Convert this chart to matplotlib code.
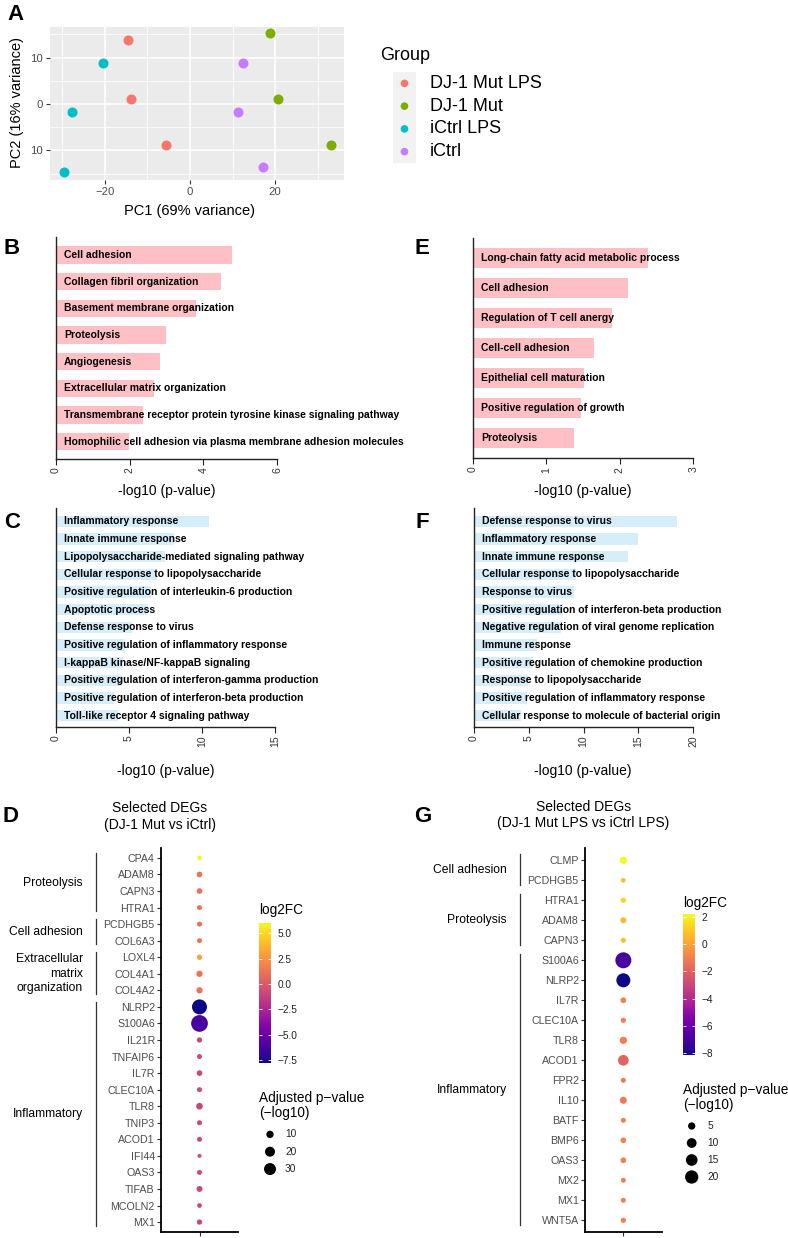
import numpy as np
import matplotlib
matplotlib.use("Agg")
import matplotlib.pyplot as plt
import matplotlib.transforms as mtransforms
from matplotlib import colors, cm

W, H = 788, 1238
plt.rcParams["font.family"] = ["Liberation Sans", "DejaVu Sans"]

# ---- A: PCA ----
groups = ["DJ-1 Mut LPS", "DJ-1 Mut", "iCtrl LPS", "iCtrl"]
group_colors = ["#F8766D", "#7CAE00", "#00BFC4", "#C77CFF"]
pc1 = [[-14.6, -13.9, -5.6], [18.7, 20.6, 33.2], [-20.4, -27.7, -29.6], [12.5, 11.2, 17.2]]
pc2 = [[13.9, 1.1, -8.9], [15.2, 1.1, -8.9], [8.9, -1.8, -14.6], [8.8, -1.7, -13.5]]

# ---- B / E: GO terms (pink) ----
b_terms = ["Cell adhesion", "Collagen fibril organization", "Basement membrane organization",
           "Proteolysis", "Angiogenesis", "Extracellular matrix organization",
           "Transmembrane receptor protein tyrosine kinase signaling pathway",
           "Homophilic cell adhesion via plasma membrane adhesion molecules"]
b_vals = [4.76, 4.47, 3.80, 2.98, 2.82, 2.67, 2.37, 1.98]

e_terms = ["Long-chain fatty acid metabolic process", "Cell adhesion", "Regulation of T cell anergy",
           "Cell-cell adhesion", "Epithelial cell maturation", "Positive regulation of growth",
           "Proteolysis"]
e_vals = [2.38, 2.11, 1.90, 1.65, 1.51, 1.47, 1.38]

# ---- C / F: GO terms (blue) ----
c_terms = ["Inflammatory response", "Innate immune response",
           "Lipopolysaccharide-mediated signaling pathway", "Cellular response to lipopolysaccharide",
           "Positive regulation of interleukin-6 production", "Apoptotic process",
           "Defense response to virus", "Positive regulation of inflammatory response",
           "I-kappaB kinase/NF-kappaB signaling", "Positive regulation of interferon-gamma production",
           "Positive regulation of interferon-beta production", "Toll-like receptor 4 signaling pathway"]
c_vals = [10.5, 8.1, 7.5, 6.9, 6.5, 6.3, 5.2, 4.7, 4.6, 4.55, 4.0, 4.25]

f_terms = ["Defense response to virus", "Inflammatory response", "Innate immune response",
           "Cellular response to lipopolysaccharide", "Response to virus",
           "Positive regulation of interferon-beta production",
           "Negative regulation of viral genome replication", "Immune response",
           "Positive regulation of chemokine production", "Response to lipopolysaccharide",
           "Positive regulation of inflammatory response",
           "Cellular response to molecule of bacterial origin"]
f_vals = [18.5, 15.0, 14.0, 9.3, 9.15, 8.1, 7.9, 5.7, 5.4, 4.95, 4.85, 4.3]

# ---- D: DEGs DJ-1 Mut vs iCtrl ----
d_genes = ["CPA4", "ADAM8", "CAPN3", "HTRA1", "PCDHGB5", "COL6A3", "LOXL4", "COL4A1", "COL4A2",
           "NLRP2", "S100A6", "IL21R", "TNFAIP6", "IL7R", "CLEC10A", "TLR8", "TNIP3", "ACOD1",
           "IFI44", "OAS3", "TIFAB", "MCOLN2", "MX1"]
d_log2fc = [6.05, 1.2, 1.2, 1.1, 1.1, 1.3, 3.1, 1.2, 1.2, -7.83, -6.2, -0.9, -0.7, -0.9, -0.8,
            -1.0, -0.8, -0.8, -0.7, -0.8, -0.9, -0.8, -0.9]
d_padj = [3.4, 5.5, 5.5, 4.0, 4.0, 4.0, 4.6, 7.0, 7.0, 49, 62, 4.6, 4.0, 5.5, 4.0, 8.0, 4.0,
          4.0, 2.3, 4.0, 6.2, 3.4, 4.6]
d_groups = ["Proteolysis", "Cell adhesion", "Extracellular\nmatrix\norganization", "Inflammatory"]
d_group_sizes = [4, 2, 3, 14]
d_size_breaks = [10, 20, 30]
d_fc_ticks = [5.0, 2.5, 0.0, -2.5, -5.0, -7.5]

# ---- G: DEGs DJ-1 Mut LPS vs iCtrl LPS ----
g_genes = ["CLMP", "PCDHGB5", "HTRA1", "ADAM8", "CAPN3", "S100A6", "NLRP2", "IL7R", "CLEC10A",
           "TLR8", "ACOD1", "FPR2", "IL10", "BATF", "BMP6", "OAS3", "MX2", "MX1", "WNT5A"]
g_log2fc = [2.2, 0.65, 1.2, 0.6, 0.7, -6.9, -8.12, -1.1, -1.0, -1.0, -1.9, -1.2, -1.2, -1.0,
            -0.9, -1.0, -1.1, -1.1, -1.0]
g_padj = [5.0, 1.6, 2.2, 3.1, 1.9, 30.1, 22.5, 2.7, 2.2, 5.0, 12.3, 1.9, 4.5, 1.9, 2.7, 2.7,
          1.9, 1.9, 2.2]
g_groups = ["Cell adhesion", "Proteolysis", "Inflammatory"]
g_group_sizes = [2, 3, 14]
g_size_breaks = [5, 10, 15, 20]
g_fc_ticks = [2, 0, -2, -4, -6, -8]

fig = plt.figure(figsize=(W / 100, H / 100), dpi=100)


def px_axes(left, top, right, bottom):
    return fig.add_axes([left / W, 1 - bottom / H, (right - left) / W, (bottom - top) / H])


def px_text(x, y, s, **kw):
    fig.text(x / W, 1 - y / H, s, **kw)


def shift(dx):
    return mtransforms.ScaledTranslation(dx / 100, 0, fig.dpi_scale_trans)


def minus(v, fmt):
    return (fmt % v).replace("-", "\u2212")


# panel letters
for letter, x, y in [("A", 16, 14), ("B", 12, 248), ("E", 422, 248), ("C", 12, 523),
                     ("F", 422, 523), ("D", 11, 816), ("G", 423, 817)]:
    px_text(x, y, letter, fontsize=16, fontweight="bold", ha="center", va="center")

# ---------- A ----------
ax = px_axes(50, 27, 344, 180)
ax.set_facecolor("#EBEBEB")
for xs, ys, col in zip(pc1, pc2, group_colors):
    ax.scatter(xs, ys, s=52, color=col, linewidths=0, zorder=3)
ax.set_xlim(-32.9, 36.2)
ax.set_ylim(-16.4, 16.6)
ax.set_xticks([-20, 0, 20])
ax.set_xticklabels(["\u221220", "0", "20"])
ax.set_yticks([-10, 0, 10])
ax.set_yticklabels(["10", "0", "10"])
ax.set_xticks([-30, -10, 10, 30], minor=True)
ax.set_yticks([-15, -5, 5, 15], minor=True)
ax.grid(which="major", color="white", lw=1.1)
ax.grid(which="minor", color="white", lw=0.55)
ax.set_axisbelow(True)
ax.tick_params(which="minor", length=0)
ax.tick_params(which="major", length=3, width=0.8, color="#333333", labelcolor="#4D4D4D",
               labelsize=8.2, pad=2)
for s in ax.spines.values():
    s.set_visible(False)
px_text(190, 211, "PC1 (69% variance)", fontsize=10.5, ha="center", va="center")
px_text(17, 103, "PC2 (16% variance)", fontsize=10.5, ha="center", va="center", rotation=90)

# legend
px_text(380, 55, "Group", fontsize=13, ha="left", va="center")
lax = px_axes(393, 72, 416, 163)
lax.set_facecolor("#F2F2F2")
lax.set_xlim(0, 1)
lax.set_ylim(len(groups) - 0.5, -0.5)
lax.scatter(np.full(len(groups), 0.5), np.arange(len(groups)), s=30, c=group_colors, linewidths=0)
lax.set_xticks([])
lax.set_yticks([])
for s in lax.spines.values():
    s.set_visible(False)
ltr = mtransforms.blended_transform_factory(lax.transAxes, lax.transData)
for i, g in enumerate(groups):
    lax.text(1.6, i, g, transform=ltr, fontsize=13, ha="left", va="center")


# ---------- GO bar panels ----------
def go_panel(box, terms, vals, xmax, step, color, bar_h, pad_top, pad_bot):
    ax = px_axes(*box)
    y = np.arange(len(terms))
    ax.barh(y, vals, height=bar_h, color=color, linewidth=0)
    ax.set_xlim(0, xmax)
    ax.set_ylim(len(terms) - 1 + pad_bot, -pad_top)
    ax.set_xticks(np.arange(0, xmax + step / 2, step))
    ax.set_yticks([])
    ax.spines[["top", "right"]].set_visible(False)
    for side in ["left", "bottom"]:
        ax.spines[side].set_color("#222222")
        ax.spines[side].set_linewidth(1.0)
    ax.tick_params(axis="x", length=4, width=0.8, color="#222222", labelcolor="#333333",
                   labelsize=7.5, labelrotation=90, pad=2)
    for i, t in enumerate(terms):
        ax.text(0, i, t, transform=ax.transData + shift(8.5), ha="left", va="center",
                fontsize=7.45, fontweight="bold", clip_on=False)
    return ax


pink = "#FFC0C5"
blue = "#D6EEFA"
go_panel((55.7, 237, 277.3, 459), b_terms, b_vals, 6, 2, pink, 0.66, 0.675, 0.65)
go_panel((472.7, 238, 693.3, 458.3), e_terms, e_vals, 3, 1, pink, 0.67, 0.68, 0.67)
go_panel((56, 508, 275, 727), c_terms, c_vals, 15, 5, blue, 0.64, 0.76, 0.64)
go_panel((474, 508, 693.3, 727), f_terms, f_vals, 20, 5, blue, 0.64, 0.76, 0.64)
for x, y in [(167, 491), (583, 491), (166, 771), (583, 771)]:
    px_text(x, y, "-log10 (p-value)", fontsize=10, ha="center", va="center")


# ---------- dot plots ----------
def dot_panel(box, genes, fc, padj, grp_names, grp_sizes, size_a, size_b):
    ax = px_axes(*box)
    n = len(genes)
    y = np.arange(n)
    norm = colors.Normalize(min(fc), max(fc))
    diam = size_a + size_b * np.sqrt(padj)
    ax.scatter(np.ones(n), y, s=(0.72 * diam) ** 2, c=fc, cmap="plasma", norm=norm,
               linewidths=0, clip_on=False, zorder=3)
    ax.set_xlim(0.4, 1.6)
    ax.set_ylim(n - 1 + 0.6, -0.6)
    ax.set_yticks(y)
    ax.set_yticklabels(genes)
    ax.set_xticks([1])
    ax.set_xticklabels([""])
    ax.spines[["top", "right"]].set_visible(False)
    for side in ["left", "bottom"]:
        ax.spines[side].set_linewidth(1.3)
        ax.spines[side].set_color("black")
    ax.tick_params(length=3, width=0.8, color="#333333", labelcolor="#4D4D4D", labelsize=7.7, pad=1.5)
    tl = mtransforms.blended_transform_factory(ax.transAxes + shift(-65), ax.transData)
    tt = mtransforms.blended_transform_factory(ax.transAxes + shift(-78), ax.transData)
    start = 0
    for name, size in zip(grp_names, grp_sizes):
        end = start + size - 1
        ax.plot([0, 0], [start - 0.3, end + 0.22], transform=tl, color="#333333", lw=0.9,
                clip_on=False)
        ax.text(0, (start + end) / 2, name, transform=tt, ha="right", va="center",
                multialignment="right", fontsize=8.7, linespacing=1.3)
        start = end + 1
    return norm


def fc_bar(box, norm, ticks, fmt):
    cax = px_axes(*box)
    cb = fig.colorbar(cm.ScalarMappable(norm=norm, cmap="plasma"), cax=cax)
    cb.outline.set_visible(False)
    cb.set_ticks(ticks, labels=[minus(t, fmt) for t in ticks])
    cax.minorticks_off()
    cax.tick_params(direction="in", length=2.5, width=0.6, color="white", left=True, right=True,
                    labelsize=7.3, labelcolor="#222222", pad=4.5)


def size_legend(box, breaks, size_a, size_b, label_x):
    lax = px_axes(*box)
    lax.axis("off")
    y = np.arange(len(breaks))
    diam = size_a + size_b * np.sqrt(breaks)
    lax.scatter(np.full(len(breaks), 0.5), y, s=(0.72 * diam) ** 2, color="black",
                linewidths=0, clip_on=False)
    lax.set_xlim(0, 1)
    lax.set_ylim(len(breaks) - 0.5, -0.5)
    tr = mtransforms.blended_transform_factory(lax.transAxes, lax.transData)
    for yi, b in zip(y, breaks):
        lax.text(label_x, yi, str(b), transform=tr, ha="left", va="center", fontsize=7.3,
                 color="#222222")


# D
px_text(160, 816.5, "Selected DEGs\n(DJ-1 Mut vs iCtrl)", fontsize=10, ha="center", va="center",
        linespacing=1.22)
d_norm = dot_panel((161, 848, 238, 1232), d_genes, d_log2fc, d_padj, d_groups, d_group_sizes, 1.0, 2.0)
px_text(259, 910, "log2FC", fontsize=9.8, ha="left", va="center")
fc_bar((259, 922.7, 271, 1063.3), d_norm, d_fc_ticks, "%.1f")
px_text(259, 1105.5, "Adjusted p\u2212value\n(\u2212log10)", fontsize=9.8, ha="left", va="center",
        linespacing=1.1)
size_legend((259, 1125.7, 281, 1177.7), d_size_breaks, 1.0, 2.0, 1.18)

# G
px_text(583.3, 815, "Selected DEGs\n(DJ-1 Mut LPS vs iCtrl LPS)", fontsize=10, ha="center",
        va="center", linespacing=1.22)
g_norm = dot_panel((585, 848.3, 661.7, 1232.3), g_genes, g_log2fc, g_padj, g_groups, g_group_sizes,
                   1.3, 2.68)
px_text(683, 902.7, "log2FC", fontsize=9.8, ha="left", va="center")
fc_bar((683.3, 914, 695, 1055), g_norm, g_fc_ticks, "%d")
px_text(683.3, 1097.5, "Adjusted p\u2212value\n(\u2212log10)", fontsize=9.8, ha="left", va="center",
        linespacing=1.1)
size_legend((680.7, 1117.5, 702.7, 1185.5), g_size_breaks, 1.3, 2.68, 1.23)

fig.savefig("out.png", dpi=100)
